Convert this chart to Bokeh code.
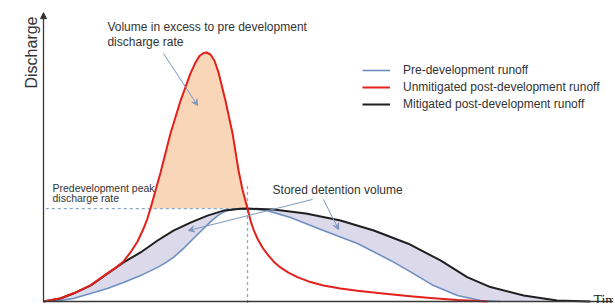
import math
from bokeh.plotting import figure
from bokeh.models import Range1d, Label, Arrow, VeeHead, NormalHead, Legend, LegendItem
from bokeh.embed import file_html
from bokeh.resources import INLINE

# ---- data: time (h) and discharge (relative units, unmitigated peak = 100) ----
pre_t = [0, 0.74, 1.30, 2.04, 2.78, 3.48, 4.22, 4.96, 5.30, 5.65, 6.09, 6.52, 6.96, 7.17,
         7.39, 7.61, 7.83, 8.04, 8.35, 8.87, 9.74, 10.74, 12.17, 13.65, 15.09, 16.09,
         16.96, 18.0, 19.0, 19.87]
pre_q = [0, 0.4, 1.2, 3.2, 5.2, 7.6, 10.4, 13.7, 15.5, 17.7, 21.3, 25.3, 29.3, 31.2,
         33.1, 34.7, 35.9, 36.6, 37.1, 37.3, 36.5, 33.7, 28.5, 23.3, 16.5, 11.2,
         6.4, 2.4, 0.4, 0]

post_t = [0, 0.74, 1.30, 2.04, 2.78, 3.13, 3.48, 3.78, 4.09, 4.35, 4.52, 4.65, 4.87, 5.09,
          5.52, 5.96, 6.39, 6.61, 6.78, 6.96, 7.09, 7.26, 7.43, 7.61, 7.91, 8.22, 8.48,
          8.65, 8.87, 9.00, 9.13, 9.30, 9.52, 9.74, 10.0, 10.30, 10.65, 11.04, 11.61,
          12.17, 12.91, 13.65, 14.65, 15.83, 16.83, 18.0, 19.30]
post_q = [0, 1.3, 3.3, 6.5, 11.3, 13.5, 16.1, 19.7, 24.1, 29.3, 33.3, 37.3, 44.6, 51.8,
          67.5, 80.7, 91.6, 96.0, 98.6, 99.8, 100, 99.2, 96.8, 92.0, 80.7, 67.5, 52.6,
          45.0, 37.3, 32.5, 28.9, 25.3, 21.7, 18.9, 16.1, 13.7, 11.6, 9.8, 7.8,
          6.4, 5.2, 4.3, 3.3, 2.2, 1.4, 0.6, 0]

mit_t = [0, 0.74, 1.30, 2.04, 2.78, 3.48, 4.22, 4.96, 5.65, 6.39, 7.13, 7.83, 8.57, 8.87,
         10.0, 11.41, 12.91, 14.36, 15.86, 17.26, 18.42, 19.43, 20.88, 22.33, 23.77]
mit_q = [0, 1.2, 3.2, 6.4, 11.2, 15.7, 19.7, 24.5, 28.5, 31.7, 34.5, 36.5, 37.2, 37.3,
         36.9, 35.3, 32.5, 28.5, 23.2, 16.5, 9.8, 5.8, 2.4, 0.4, 0]

series_labels = ["Pre-development runoff",
                 "Unmitigated post-development runoff",
                 "Mitigated post-development runoff"]

FONT = "Liberation Sans"
TXT = "#333333"
ARROW_C = "#7b97c0"

p = figure(width=613, height=303, output_backend="svg", toolbar_location=None,
           x_range=Range1d(-1.8696, 24.783), y_range=Range1d(-0.803, 120.88),
           x_axis_type=None, y_axis_type=None, min_border=0)
p.outline_line_color = None
p.background_fill_color = "white"
p.border_fill_color = "white"

# stored detention volume (between mitigated and pre-development)
p.patch(x=mit_t + pre_t[::-1], y=mit_q + pre_q[::-1],
        fill_color="#dcdaea", line_color=None)

# volume in excess of pre-development peak
pre_peak = max(pre_q)
peak_t = pre_t[pre_q.index(pre_peak)]
sel = [i for i, q in enumerate(post_q) if q >= pre_peak - 1e-9]
ex_t = [post_t[i] for i in sel]
ex_q = [post_q[i] for i in sel]
p.varea(x=ex_t, y1=[pre_peak] * len(ex_t), y2=ex_q, fill_color="#f9d6b8")

# dashed reference lines
p.segment(x0=[0.1], y0=[pre_peak], x1=[peak_t], y1=[pre_peak],
          line_color="#8ea8c9", line_width=1.3, line_dash="3 3")
p.segment(x0=[peak_t], y0=[-3], x1=[peak_t], y1=[46.5],
          line_color="#8ea8c9", line_width=1.3, line_dash="3 3")

r_pre = p.line(pre_t, pre_q, line_color="#6d8fc0", line_width=1.6, line_join="round")
r_mit = p.line(mit_t, mit_q, line_color="#1f1f1f", line_width=2, line_join="round")
r_post = p.line(post_t, post_q, line_color="#e3201b", line_width=2, line_join="round")

# axes
p.add_layout(Arrow(end=NormalHead(size=6, fill_color="#333333", line_color="#333333"),
                   x_start=0, y_start=0, x_end=0, y_end=116,
                   line_color="#3a3a3a", line_width=1.3))
p.add_layout(Arrow(end=None, x_start=0, y_start=0, x_end=25, y_end=0,
                   line_color="#3a3a3a", line_width=1.5))

# pointer arrows
for xs, ys, xe, ye in [(5.22, 99.6, 6.70, 78.7), (11.70, 41.0, 6.30, 28.5),
                       (12.17, 41.0, 12.83, 28.9)]:
    p.add_layout(Arrow(end=VeeHead(size=6, line_color=ARROW_C, fill_color=ARROW_C, line_width=1),
                       x_start=xs, y_start=ys, x_end=xe, y_end=ye,
                       line_color=ARROW_C, line_width=1))

def lab(x, y, text, size, **kw):
    opts = dict(text_font=FONT, text_color=TXT, text_font_size=size,
                text_baseline="alphabetic", text_align="left")
    opts.update(kw)
    p.add_layout(Label(x=x, y=y, text=text, **opts))

lab(-0.52, 100, "Discharge", "16px", angle=math.pi / 2, text_align="center",
    text_baseline="middle")
lab(2.78, 110.1, "Volume in excess to pre development", "12px")
lab(2.78, 104.3, "discharge rate", "12px")
lab(0.39, 45.7, "Predevelopment peak", "10.5px")
lab(0.39, 41.6, "discharge rate", "10.5px")
lab(9.96, 44.6, "Stored detention volume", "12px")
lab(23.91, 0.4, "Time", "14px", text_font="Liberation Serif", text_color="#222222")

legend = Legend(items=[LegendItem(label=series_labels[0], renderers=[r_pre]),
                       LegendItem(label=series_labels[1], renderers=[r_post]),
                       LegendItem(label=series_labels[2], renderers=[r_mit])],
                location=(362, 191), orientation="vertical",
                label_text_font=FONT, label_text_font_size="12px", label_text_color=TXT,
                glyph_width=28, glyph_height=16, label_height=16, spacing=1,
                padding=0, margin=0, label_standoff=13,
                border_line_alpha=0, background_fill_alpha=0)
p.add_layout(legend)

open("out.html", "w").write(file_html(p, INLINE))
